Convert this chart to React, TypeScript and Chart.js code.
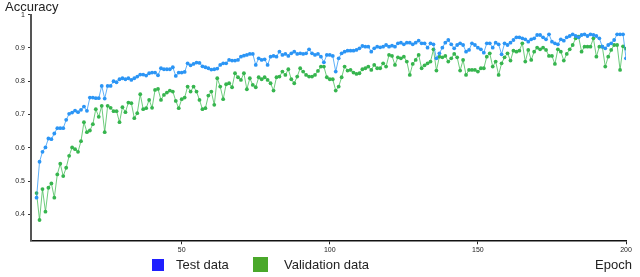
import React, { useEffect, useRef } from "react";
import { Chart, registerables } from "chart.js";

Chart.register(...registerables);

const epochs: number[] = Array.from({ length: 200 }, (_, i) => i + 1);

const testData: number[] = [
  0.450, 0.558, 0.588, 0.601, 0.628, 0.626, 0.643, 0.659, 0.659, 0.659,
  0.684, 0.702, 0.706, 0.712, 0.707, 0.714, 0.724, 0.711, 0.751, 0.751,
  0.749, 0.749, 0.786, 0.748, 0.786, 0.786, 0.800, 0.797, 0.806, 0.809,
  0.806, 0.809, 0.804, 0.809, 0.814, 0.820, 0.820, 0.817, 0.824, 0.826,
  0.826, 0.818, 0.839, 0.836, 0.836, 0.836, 0.842, 0.816, 0.826, 0.826,
  0.828, 0.854, 0.848, 0.852, 0.856, 0.855, 0.845, 0.842, 0.839, 0.835,
  0.836, 0.838, 0.849, 0.854, 0.854, 0.864, 0.862, 0.862, 0.864, 0.874,
  0.877, 0.879, 0.882, 0.882, 0.849, 0.869, 0.864, 0.866, 0.849, 0.874,
  0.876, 0.874, 0.889, 0.879, 0.882, 0.876, 0.884, 0.889, 0.882, 0.884,
  0.882, 0.884, 0.896, 0.884, 0.879, 0.882, 0.874, 0.857, 0.879, 0.879,
  0.876, 0.829, 0.869, 0.884, 0.889, 0.892, 0.892, 0.892, 0.894, 0.899,
  0.906, 0.904, 0.904, 0.889, 0.899, 0.904, 0.902, 0.904, 0.909, 0.904,
  0.907, 0.904, 0.914, 0.916, 0.911, 0.916, 0.916, 0.911, 0.916, 0.922,
  0.914, 0.914, 0.901, 0.914, 0.911, 0.869, 0.884, 0.901, 0.916, 0.924,
  0.911, 0.899, 0.909, 0.914, 0.909, 0.889, 0.894, 0.914, 0.909, 0.901,
  0.896, 0.886, 0.914, 0.914, 0.901, 0.916, 0.911, 0.881, 0.914, 0.909,
  0.916, 0.924, 0.932, 0.932, 0.929, 0.926, 0.919, 0.926, 0.929, 0.939,
  0.939, 0.932, 0.926, 0.941, 0.919, 0.914, 0.911, 0.926, 0.922, 0.932,
  0.936, 0.941, 0.936, 0.932, 0.939, 0.941, 0.936, 0.941, 0.939, 0.936,
  0.929, 0.904, 0.899, 0.909, 0.914, 0.924, 0.941, 0.941, 0.941, 0.869,
];

const validationData: number[] = [
  0.464, 0.383, 0.476, 0.408, 0.480, 0.493, 0.450, 0.520, 0.552, 0.515,
  0.540, 0.576, 0.601, 0.596, 0.588, 0.620, 0.677, 0.647, 0.652, 0.671,
  0.716, 0.693, 0.726, 0.647, 0.726, 0.720, 0.710, 0.710, 0.677, 0.722,
  0.707, 0.736, 0.734, 0.689, 0.704, 0.761, 0.716, 0.719, 0.744, 0.720,
  0.774, 0.777, 0.744, 0.759, 0.766, 0.772, 0.769, 0.741, 0.719, 0.746,
  0.751, 0.784, 0.769, 0.784, 0.769, 0.744, 0.716, 0.719, 0.757, 0.769,
  0.729, 0.809, 0.784, 0.746, 0.791, 0.794, 0.782, 0.824, 0.812, 0.804,
  0.824, 0.776, 0.809, 0.789, 0.782, 0.812, 0.806, 0.812, 0.804, 0.794,
  0.772, 0.812, 0.814, 0.829, 0.819, 0.836, 0.806, 0.794, 0.814, 0.839,
  0.829, 0.819, 0.814, 0.814, 0.819, 0.831, 0.844, 0.844, 0.812, 0.806,
  0.806, 0.772, 0.784, 0.812, 0.844, 0.832, 0.834, 0.826, 0.822, 0.824,
  0.836, 0.839, 0.844, 0.834, 0.849, 0.839, 0.839, 0.854, 0.844, 0.879,
  0.876, 0.849, 0.872, 0.869, 0.874, 0.859, 0.819, 0.852, 0.864, 0.879,
  0.839, 0.848, 0.854, 0.859, 0.896, 0.832, 0.874, 0.872, 0.876, 0.859,
  0.869, 0.882, 0.872, 0.832, 0.864, 0.819, 0.834, 0.834, 0.834, 0.829,
  0.839, 0.839, 0.874, 0.884, 0.844, 0.859, 0.819, 0.854, 0.872, 0.884,
  0.862, 0.892, 0.889, 0.892, 0.914, 0.859, 0.894, 0.864, 0.889, 0.901,
  0.896, 0.901, 0.894, 0.876, 0.876, 0.852, 0.896, 0.889, 0.862, 0.882,
  0.896, 0.909, 0.929, 0.934, 0.889, 0.904, 0.904, 0.904, 0.929, 0.874,
  0.904, 0.904, 0.844, 0.874, 0.894, 0.909, 0.909, 0.834, 0.905, 0.898,
];

const yTickValues: number[] = [0.4, 0.5, 0.6, 0.7, 0.8, 0.9, 1];
const xTickValues: number[] = [50, 100, 150, 200];

const seriesNames = ["Test data", "Validation data"];
const yTitle = "Accuracy";
const xTitle = "Epoch";

const FONT = '"Liberation Sans", Arial, sans-serif';

const textPlugin = {
  id: "customText",
  afterDraw(chart: any) {
    const ctx = chart.ctx as CanvasRenderingContext2D;
    ctx.save();
    ctx.font = `13px ${FONT}`;
    ctx.fillStyle = "#222";
    ctx.textBaseline = "alphabetic";
    ctx.textAlign = "left";
    ctx.fillText(yTitle, 5, 10.5);
    ctx.fillText(xTitle, 595, 269);
    // legend
    ctx.fillStyle = "#1f1fff";
    ctx.fillRect(152, 259, 12, 12);
    ctx.fillStyle = "#222";
    ctx.fillText(seriesNames[0], 176, 268.5);
    ctx.fillStyle = "#4aa82a";
    ctx.fillRect(253, 257, 15, 15);
    ctx.fillStyle = "#222";
    ctx.fillText(seriesNames[1], 284, 268.5);
    ctx.restore();
  },
};

export default function App() {
  const canvasRef = useRef<HTMLCanvasElement | null>(null);

  useEffect(() => {
    if (!canvasRef.current) return;
    const chart = new Chart(canvasRef.current, {
      type: "line",
      data: {
        datasets: [
          {
            label: seriesNames[0],
            data: epochs.map((e, i) => ({ x: e, y: testData[i] })),
            borderColor: "rgba(40,150,245,0.75)",
            backgroundColor: "#2b95f5",
            pointBackgroundColor: "#2b95f5",
            pointBorderWidth: 0,
            pointRadius: 1.9,
            borderWidth: 1,
            tension: 0,
          },
          {
            label: seriesNames[1],
            data: epochs.map((e, i) => ({ x: e, y: validationData[i] })),
            borderColor: "rgba(60,185,80,0.75)",
            backgroundColor: "#36b54e",
            pointBackgroundColor: "#36b54e",
            pointBorderWidth: 0,
            pointRadius: 1.9,
            borderWidth: 1,
            tension: 0,
          },
        ],
      },
      options: {
        responsive: false,
        animation: false,
        devicePixelRatio: 1,
        layout: { padding: { top: 14.7, right: 14, left: 0, bottom: 0 } },
        plugins: {
          legend: { display: false },
          tooltip: { enabled: false },
        },
        scales: {
          x: {
            type: "linear",
            min: -0.88,
            max: 200,
            afterFit: (scale: any) => {
              scale.height = 36.7;
            },
            afterBuildTicks: (scale: any) => {
              scale.ticks = xTickValues.map((v) => ({ value: v }));
            },
            grid: {
              drawOnChartArea: false,
              drawTicks: true,
              tickLength: 4,
              color: "#222",
            },
            border: { color: "#111", width: 1.5 },
            ticks: {
              font: { size: 7, family: FONT },
              color: "#222",
              padding: 2,
              maxRotation: 0,
              callback: (v: any) => String(v),
            },
          },
          y: {
            type: "linear",
            min: 0.322,
            max: 1,
            afterFit: (scale: any) => {
              scale.width = 31;
            },
            afterBuildTicks: (scale: any) => {
              scale.ticks = yTickValues.map((v) => ({ value: v }));
            },
            grid: {
              drawOnChartArea: false,
              drawTicks: true,
              tickLength: 3,
              color: "#333",
            },
            border: { color: "#555", width: 2 },
            ticks: {
              font: { size: 7, family: FONT },
              color: "#222",
              padding: 3,
              callback: (v: any) => String(Math.round(Number(v) * 10) / 10),
            },
          },
        },
      },
      plugins: [textPlugin],
    });
    return () => chart.destroy();
  }, []);

  return (
    <div style={{ position: "absolute", left: 0, top: 0, width: 640, height: 277, background: "#fff" }}>
      <canvas ref={canvasRef} width={640} height={277} />
    </div>
  );
}
